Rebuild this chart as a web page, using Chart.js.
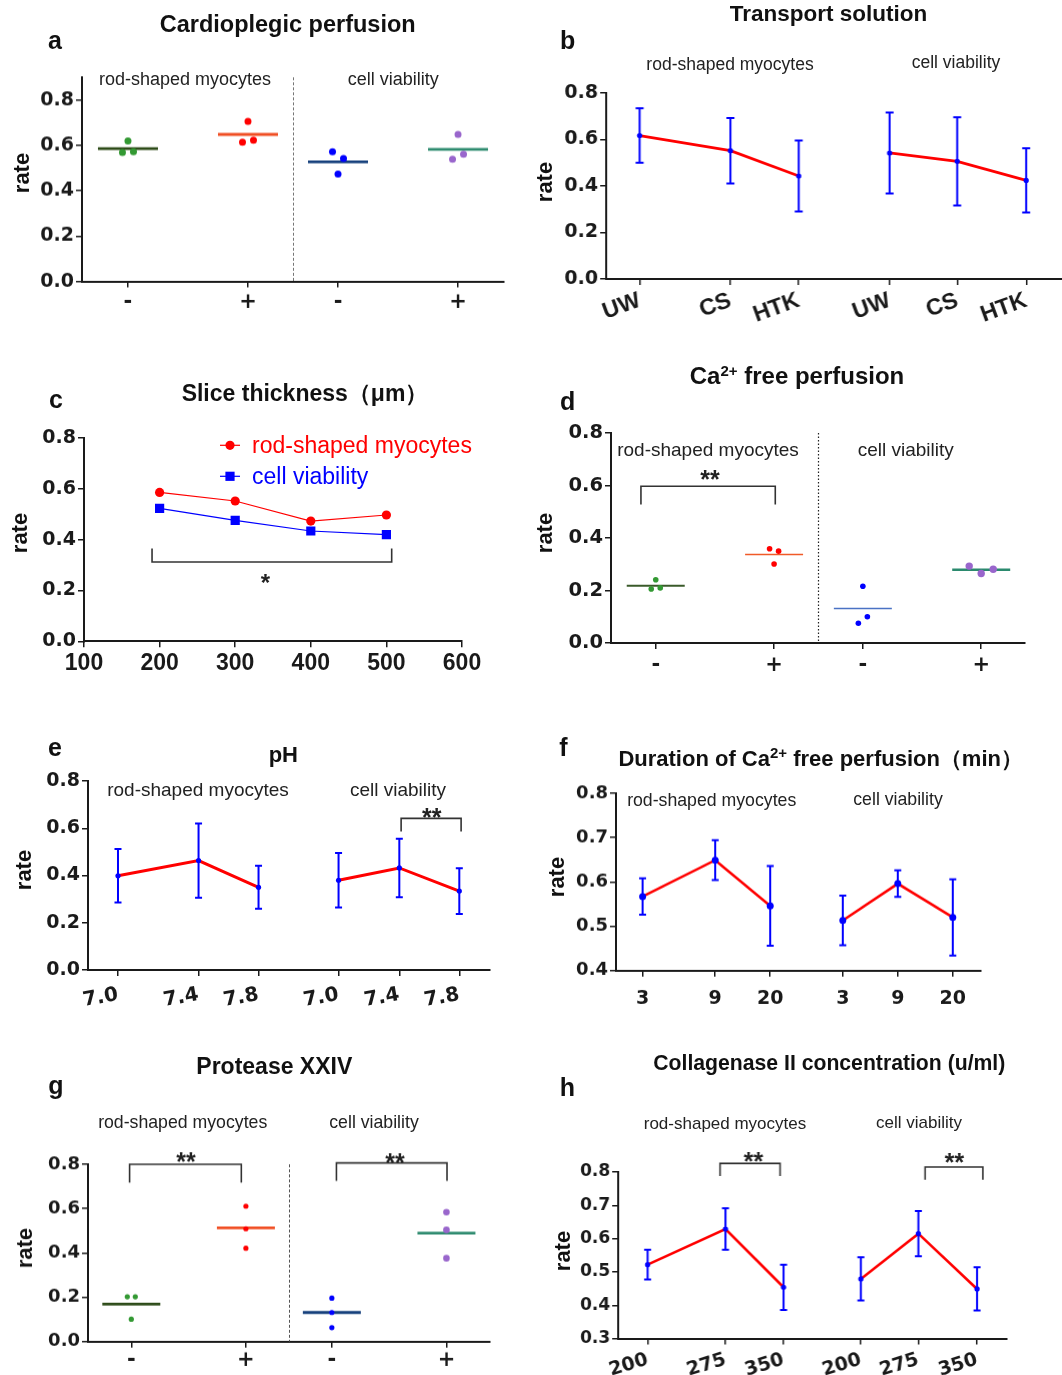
<!DOCTYPE html>
<html>
<head>
<meta charset="utf-8">
<script src="https://cdn.jsdelivr.net/npm/chart.js@4.4.1/dist/chart.umd.min.js"></script>
<style>
  html, body { margin: 0; padding: 0; background: #fff; overflow: hidden; }
  body { width: 1062px; height: 1375px; position: relative; font-family: 'Liberation Sans', Arial, sans-serif; }
  .box { position: absolute; }
  .txt { position: absolute; transform: translate(-50%, -50%); white-space: nowrap; color: #111; line-height: 1; }
  .title { font-weight: bold; font-size: 22px; }
  .letter { font-weight: bold; font-size: 25px; }
  .group { font-size: 18px; color: #222; }
  .rate { font-weight: bold; font-size: 22px; transform: translate(-50%, -50%) rotate(-90deg); }
  .sup { position: relative; top: -8px; font-size: 15px; }
</style>
</head>
<body>
<script>
// ---- data ----
const yTicks = [0, 0.2, 0.4, 0.6, 0.8]
const yTicksDuration = [0.4, 0.5, 0.6, 0.7, 0.8]
const yTicksCollagenase = [0.3, 0.4, 0.5, 0.6, 0.7, 0.8]

// a  Cardioplegic perfusion (3 replicates: rod-, rod+, viab-, viab+)
const pmLabels = ['-', '+', '-', '+']
const cardioDots = [[0.619, 0.569, 0.572], [0.706, 0.614, 0.623], [0.473, 0.572, 0.542], [0.648, 0.539, 0.561]]
const cardioMeans = [0.586, 0.648, 0.527, 0.582]

// b  Transport solution
const solutionLabels = ['UW', 'CS', 'HTK', 'UW', 'CS', 'HTK']
const solutionRod = [0.617, 0.552, 0.443]
const solutionRodSd = [0.117, 0.141, 0.153]
const solutionCell = [0.542, 0.506, 0.424]
const solutionCellSd = [0.174, 0.19, 0.138]

// c  Slice thickness
const thicknessTicks = [100, 200, 300, 400, 500, 600]
const thickness = [200, 300, 400, 500]
const thicknessRod = [0.586, 0.552, 0.473, 0.497]
const thicknessCell = [0.523, 0.476, 0.434, 0.420]

// d  Ca2+ free perfusion
const caFreeDots = [[0.241, 0.206, 0.21], [0.301, 0.359, 0.350], [0.216, 0.075, 0.100], [0.265, 0.293, 0.281]]
const caFreeMeans = [0.218, 0.337, 0.131, 0.279]

// e  pH
const phLabels = ['7.0', '7.4', '7.8', '7.0', '7.4', '7.8']
const phRod = [0.399, 0.463, 0.350]
const phRodSd = [0.113, 0.157, 0.091]
const phCell = [0.380, 0.432, 0.334]
const phCellSd = [0.115, 0.124, 0.097]

// f  Duration of Ca2+ free perfusion
const durationLabels = ['3', '9', '20', '3', '9', '20']
const durationRod = [0.567, 0.649, 0.546]
const durationRodSd = [0.041, 0.045, 0.09]
const durationCell = [0.513, 0.596, 0.520]
const durationCellSd = [0.056, 0.030, 0.086]

// g  Protease XXIV
const proteaseDots = [[0.101, 0.202, 0.202], [0.611, 0.509, 0.421], [0.196, 0.131, 0.063], [0.584, 0.504, 0.376]]
const proteaseMeans = [0.169, 0.513, 0.131, 0.489]

// h  Collagenase II concentration
const collagenaseLabels = ['200', '275', '350', '200', '275', '350']
const collagenaseRod = [0.522, 0.629, 0.454]
const collagenaseRodSd = [0.045, 0.062, 0.068]
const collagenaseCell = [0.479, 0.615, 0.449]
const collagenaseCellSd = [0.065, 0.068, 0.065]

// ---- styling ----
const INK = '#1a1a1a'
const FAM = "'Liberation Sans', Arial, sans-serif"
const PAD_L = 80, PAD_T = 90, PAD_R = 30, PAD_B = 60
const JITTER = [0, -1, 1]
const DOT_COLORS = ['#339933', '#ff0000', '#0000ff', '#9966cc']
const dv = size => ({ family: 'DejaVu Sans', weight: 'bold', size })
const ar = size => ({ family: FAM, weight: 'bold', size })

function addText(html, x, y, cls, css) {
  const d = document.createElement('div')
  d.className = 'txt ' + cls
  d.innerHTML = html
  d.style.left = x + 'px'
  d.style.top = y + 'px'
  if (css) d.style.cssText += css
  document.body.appendChild(d)
}

// error bars, dividers, brackets and the legend of panel c
function makeMarks(m) {
  return {
    id: 'marks',
    beforeDatasetsDraw(chart) {
      const ctx = chart.ctx, ys = chart.scales.y
      chart.data.datasets.forEach((ds, i) => {
        if (!ds.errs) return
        const meta = chart.getDatasetMeta(i)
        ctx.save()
        ctx.strokeStyle = '#0000ff'
        ctx.lineWidth = 2
        meta.data.forEach((pt, j) => {
          const v = ds.data[j].y
          const top = ys.getPixelForValue(v + ds.errs[j])
          const bot = ys.getPixelForValue(v - ds.errs[j])
          const c = ds.capHalf
          ctx.beginPath()
          ctx.moveTo(pt.x, top); ctx.lineTo(pt.x, bot)
          ctx.moveTo(pt.x - c, top); ctx.lineTo(pt.x + c, top)
          ctx.moveTo(pt.x - c, bot); ctx.lineTo(pt.x + c, bot)
          ctx.stroke()
        })
        ctx.restore()
      })
    },
    afterDatasetsDraw(chart) {
      if (!m) return
      const ctx = chart.ctx, xs = chart.scales.x, ys = chart.scales.y, area = chart.chartArea
      ctx.save()
      if (m.divider) {
        const d = m.divider, px = Math.round(xs.getPixelForValue(d.x)) + 0.5
        ctx.strokeStyle = d.color
        ctx.lineWidth = d.width
        ctx.setLineDash(d.dash)
        ctx.beginPath()
        ctx.moveTo(px, ys.getPixelForValue(d.from))
        ctx.lineTo(px, ys.getPixelForValue(d.to))
        ctx.stroke()
        ctx.setLineDash([])
      }
      (m.brackets || []).forEach(b => {
        const x1 = xs.getPixelForValue(b.x1), x2 = xs.getPixelForValue(b.x2)
        const y = ys.getPixelForValue(b.y), y2 = ys.getPixelForValue(b.y2)
        ctx.strokeStyle = '#333'
        ctx.lineWidth = 1.6
        ctx.beginPath()
        ctx.moveTo(x1, y2); ctx.lineTo(x1, y); ctx.lineTo(x2, y); ctx.lineTo(x2, y2)
        ctx.stroke()
        const size = b.size || 25
        ctx.fillStyle = '#222'
        ctx.font = 'bold ' + size + 'px ' + FAM
        ctx.textAlign = 'center'
        ctx.textBaseline = 'alphabetic'
        ctx.fillText(b.text, xs.getPixelForValue(b.sx), ys.getPixelForValue(b.sy) + 0.6 * size - 1)
      })
      ;(m.legend || []).forEach(it => {
        const x = area.left + it.dx, y = area.top + it.dy
        ctx.strokeStyle = it.color
        ctx.fillStyle = it.color
        ctx.lineWidth = 1.2
        ctx.beginPath(); ctx.moveTo(x - 10, y); ctx.lineTo(x + 10, y); ctx.stroke()
        if (it.style === 'circle') {
          ctx.beginPath(); ctx.arc(x, y, 4.6, 0, Math.PI * 2); ctx.fill()
        } else {
          ctx.fillRect(x - 4.6, y - 4.6, 9.2, 9.2)
        }
        ctx.font = '23px ' + FAM
        ctx.textAlign = 'left'
        ctx.textBaseline = 'middle'
        ctx.fillText(it.text, area.left + it.tx, y + 1)
      })
      ctx.restore()
    }
  }
}

function axis(extra) {
  return Object.assign({
    grid: { drawOnChartArea: false, tickLength: 6, color: INK, lineWidth: 1.5 },
    border: { color: INK, width: 2 }
  }, extra)
}

function makeChart(area, datasets, o) {
  const div = document.createElement('div')
  div.className = 'box'
  div.style.left = (area.l - PAD_L) + 'px'
  div.style.top = (area.t - PAD_T) + 'px'
  div.style.width = (area.r - area.l + PAD_L + PAD_R) + 'px'
  div.style.height = (area.b - area.t + PAD_T + PAD_B) + 'px'
  const cv = document.createElement('canvas')
  div.appendChild(cv)
  document.body.appendChild(div)
  return new Chart(cv, {
    type: 'line',
    data: { datasets },
    options: {
      responsive: true,
      maintainAspectRatio: false,
      animation: false,
      layout: { padding: { left: 0, top: PAD_T, right: PAD_R, bottom: 0 } },
      plugins: { legend: { display: false }, tooltip: { enabled: false } },
      scales: {
        x: axis({
          type: 'linear', min: o.xMin, max: o.xMax,
          afterBuildTicks: s => { s.ticks = o.xTicks.map(v => ({ value: v })) },
          afterFit: s => { s.height = PAD_B },
          ticks: {
            autoSkip: false, maxRotation: o.rot || 0, minRotation: o.rot || 0,
            padding: o.xPad, color: INK, font: o.xFont,
            callback: (v, i) => o.xLabels[i]
          }
        }),
        y: axis({
          type: 'linear', min: o.yMin, max: o.yMax,
          afterBuildTicks: s => { s.ticks = o.yTicks.map(v => ({ value: v })) },
          afterFit: s => { s.width = PAD_L },
          ticks: { padding: 2, color: INK, font: o.yFont, callback: v => v.toFixed(1) }
        })
      }
    },
    plugins: [makeMarks(o.marks)]
  })
}

function dotSets(dots, means, st) {
  const ds = []
  dots.forEach((vals, g) => {
    ds.push({
      data: vals.map((v, k) => ({ x: st.slots[g] + JITTER[k] * st.jitter[g] / st.unit, y: v })),
      showLine: false,
      pointRadius: st.radius[g], pointHoverRadius: st.radius[g],
      pointBackgroundColor: DOT_COLORS[g], pointBorderWidth: 0
    })
  })
  means.forEach((m, g) => {
    ds.push({
      data: [{ x: st.slots[g] - st.half, y: m }, { x: st.slots[g] + st.half, y: m }],
      borderColor: st.lineColors[g], borderWidth: st.lineWidth[g], pointRadius: 0, fill: false
    })
  })
  return ds
}

function lineSets(rod, rodSd, cell, cellSd, st) {
  return [[rod, rodSd, 0], [cell, cellSd, 3]].map(([vals, sd, off]) => ({
    data: vals.map((v, i) => ({ x: st.slots[i + off], y: v })),
    errs: sd, capHalf: st.cap,
    borderColor: '#ff0000', borderWidth: st.lineWidth, tension: 0, fill: false,
    pointRadius: st.radius, pointHoverRadius: st.radius,
    pointBackgroundColor: '#0000ff', pointBorderColor: '#0000ff', pointBorderWidth: 0
  }))
}

// ---- a  Cardioplegic perfusion ----
const slotsA = [0, 1, 1.75, 2.75]
makeChart({ l: 82, t: 77.4, r: 504, b: 281 },
  dotSets(cardioDots, cardioMeans, {
    slots: slotsA, unit: 120, half: 0.25, jitter: [5.5, 5.5, 5.5, 5.5], radius: [3.5, 3.5, 3.5, 3.5],
    lineColors: ['#2c4a17', '#f04e23', '#16407c', '#2e8b6f'], lineWidth: [2.8, 2.8, 2.8, 2.8]
  }),
  { xMin: -0.383, xMax: 3.133, xTicks: slotsA, xLabels: pmLabels, xFont: dv(21), xPad: 2,
    yMin: 0, yMax: 0.9, yTicks: yTicks, yFont: dv(19),
    marks: { divider: { x: 1.375, from: 0.9, to: 0, color: '#777', width: 1, dash: [3, 2] } } })

// ---- b  Transport solution ----
const slotsB = [0, 1.33, 2.33, 3.66, 4.65, 5.66]
makeChart({ l: 606.3, t: 93.3, r: 1061, b: 279.3 },
  lineSets(solutionRod, solutionRodSd, solutionCell, solutionCellSd, { slots: slotsB, cap: 4, lineWidth: 2.8, radius: 2.6 }),
  { xMin: -0.49, xMax: 6.18, xTicks: slotsB, xLabels: solutionLabels, xFont: ar(23), xPad: 2, rot: 20,
    yMin: 0, yMax: 0.8, yTicks: yTicks, yFont: dv(19) })

// ---- c  Slice thickness ----
makeChart({ l: 84.3, t: 437.7, r: 462.3, b: 641 },
  [
    { data: thickness.map((x, i) => ({ x, y: thicknessRod[i] })), borderColor: '#ff0000', borderWidth: 1.2,
      pointStyle: 'circle', pointRadius: 4.6, pointHoverRadius: 4.6, pointBackgroundColor: '#ff0000', pointBorderWidth: 0, tension: 0 },
    { data: thickness.map((x, i) => ({ x, y: thicknessCell[i] })), borderColor: '#0000ff', borderWidth: 1.2,
      pointStyle: 'rect', pointRadius: 6.5, pointHoverRadius: 6.5, pointBackgroundColor: '#0000ff', pointBorderWidth: 0, tension: 0 }
  ],
  { xMin: 100, xMax: 600, xTicks: thicknessTicks, xLabels: thicknessTicks.map(String), xFont: ar(23), xPad: 3,
    yMin: 0, yMax: 0.8, yTicks: yTicks, yFont: dv(19),
    marks: {
      brackets: [{ x1: 190, x2: 507, y: 0.312, y2: 0.365, text: '*', sx: 340, sy: 0.25, size: 24 }],
      legend: [
        { text: 'rod-shaped myocytes', color: '#ff0000', style: 'circle', dx: 146, dy: 7.3, tx: 168 },
        { text: 'cell viability', color: '#0000ff', style: 'rect', dx: 146, dy: 38.3, tx: 168 }
      ]
    } })

// ---- d  Ca2+ free perfusion ----
const slotsD = [0, 1, 1.75, 2.75]
makeChart({ l: 611, t: 432.7, r: 1025, b: 642.7 },
  dotSets(caFreeDots, caFreeMeans, {
    slots: slotsD, unit: 118.3, half: 0.245, jitter: [4.5, 4.5, 4.5, 12], radius: [2.8, 2.8, 2.8, 3.7],
    lineColors: ['#3a5a2a', '#f05a28', '#4a72c4', '#2b8a6e'], lineWidth: [2, 1.5, 1.5, 2.5]
  }),
  { xMin: -0.378, xMax: 3.12, xTicks: slotsD, xLabels: pmLabels, xFont: dv(21), xPad: 4,
    yMin: 0, yMax: 0.8, yTicks: yTicks, yFont: dv(19.5),
    marks: {
      divider: { x: 1.374, from: 0.8, to: 0, color: '#222', width: 1.2, dash: [1.5, 2] },
      brackets: [{ x1: -0.125, x2: 1.01, y: 0.597, y2: 0.528, text: '**', sx: 0.459, sy: 0.645 }]
    } })

// ---- e  pH ----
const slotsE = [0, 1.343, 2.343, 3.677, 4.69, 5.69]
makeChart({ l: 87.7, t: 781, r: 489, b: 970 },
  lineSets(phRod, phRodSd, phCell, phCellSd, { slots: slotsE, cap: 3.5, lineWidth: 3, radius: 2.6 }),
  { xMin: -0.5, xMax: 6.19, xTicks: slotsE, xLabels: phLabels, xFont: dv(20), xPad: 7, rot: 10,
    yMin: 0, yMax: 0.8, yTicks: yTicks, yFont: dv(19),
    marks: { brackets: [{ x1: 4.72, x2: 5.72, y: 0.642, y2: 0.586, text: '**', sx: 5.23, sy: 0.67 }] } })

// ---- f  Duration of Ca2+ free perfusion ----
const slotsF = [0, 1.32, 2.32, 3.64, 4.64, 5.64]
makeChart({ l: 615.7, t: 793.3, r: 980, b: 970 },
  lineSets(durationRod, durationRodSd, durationCell, durationCellSd, { slots: slotsF, cap: 3.5, lineWidth: 2.6, radius: 3.5 }),
  { xMin: -0.484, xMax: 6.14, xTicks: slotsF, xLabels: durationLabels, xFont: dv(19), xPad: 11,
    yMin: 0.4, yMax: 0.8, yTicks: yTicksDuration, yFont: dv(18) })

// ---- g  Protease XXIV ----
const slotsG = [0, 1, 1.75, 2.75]
makeChart({ l: 87.7, t: 1164, r: 489, b: 1340.7 },
  dotSets(proteaseDots, proteaseMeans, {
    slots: slotsG, unit: 114.6, half: 0.253, jitter: [4, 0, 0, 0], radius: [2.6, 2.6, 2.6, 3.3],
    lineColors: ['#2c4a17', '#f04e23', '#16407c', '#2e8b6f'], lineWidth: [2.8, 2.8, 2.8, 2.8]
  }),
  { xMin: -0.378, xMax: 3.124, xTicks: slotsG, xLabels: pmLabels, xFont: dv(21), xPad: 0,
    yMin: 0, yMax: 0.8, yTicks: yTicks, yFont: dv(18),
    marks: {
      divider: { x: 1.373, from: 0.8, to: 0, color: '#555', width: 1, dash: [3, 2] },
      brackets: [
        { x1: -0.015, x2: 0.96, y: 0.8, y2: 0.717, text: '**', sx: 0.477, sy: 0.836 },
        { x1: 1.79, x2: 2.755, y: 0.806, y2: 0.725, text: '**', sx: 2.30, sy: 0.833 }
      ]
    } })

// ---- h  Collagenase II concentration ----
const slotsH = [0, 1.34, 2.34, 3.67, 4.66, 5.67]
makeChart({ l: 618.3, t: 1171.7, r: 1006, b: 1338.3 },
  lineSets(collagenaseRod, collagenaseRodSd, collagenaseCell, collagenaseCellSd, { slots: slotsH, cap: 3.5, lineWidth: 2.6, radius: 2.6 }),
  { xMin: -0.507, xMax: 6.18, xTicks: slotsH, xLabels: collagenaseLabels, xFont: dv(19), xPad: 4, rot: 17,
    yMin: 0.3, yMax: 0.8, yTicks: yTicksCollagenase, yFont: dv(17),
    marks: { brackets: [
      { x1: 1.247, x2: 2.28, y: 0.826, y2: 0.788, text: '**', sx: 1.82, sy: 0.847 },
      { x1: 4.776, x2: 5.77, y: 0.815, y2: 0.777, text: '**', sx: 5.28, sy: 0.845 }
    ] } })

// ---- titles, panel letters, group labels, axis titles ----
const sup = '<span class="sup">2+</span>'
addText('Cardioplegic perfusion', 287.7, 25, 'title', 'font-size:23.5px')
addText('Transport solution', 828.5, 14, 'title', 'font-size:22.5px')
addText('Slice thickness（μm）', 305, 393.3, 'title', 'font-size:23px')
addText('Ca' + sup + ' free perfusion', 797, 376, 'title', 'font-size:24px')
addText('pH', 283.3, 755, 'title', 'font-size:22px')
addText('Duration of Ca' + sup + ' free perfusion（min）', 820.7, 759.3, 'title', 'font-size:22px')
addText('Protease XXIV', 274.3, 1066, 'title', 'font-size:23px')
addText('Collagenase II concentration (u/ml)', 829.3, 1063.3, 'title', 'font-size:21.2px')

const letters = [['a', 55, 40], ['b', 567.7, 40], ['c', 56, 399], ['d', 567.7, 400.7],
  ['e', 55, 746.5], ['f', 563.3, 746.7], ['g', 56, 1085], ['h', 567.3, 1086.7]]
letters.forEach(([t, x, y]) => addText(t, x, y, 'letter'))

const groups = [
  [185, 79.3, 393.3, 79.3, 18], [730, 65, 956, 63.3, 17.5],
  [708, 449, 905.7, 449, 19], [198, 789, 398, 789, 19],
  [711.7, 800.7, 898, 800, 17.7], [182.7, 1123.3, 374, 1123, 17.7],
  [725, 1122.7, 919, 1122, 17]
]
groups.forEach(([x1, y1, x2, y2, fs]) => {
  addText('rod-shaped myocytes', x1, y1, 'group', 'font-size:' + fs + 'px')
  addText('cell viability', x2, y2, 'group', 'font-size:' + fs + 'px')
})

const rates = [[22, 173], [545, 182], [20, 533], [545, 532.7], [24, 870], [556.7, 876.7], [25, 1248], [563.3, 1250.7]]
rates.forEach(([x, y]) => addText('rate', x, y, 'rate'))
</script>
</body>
</html>
